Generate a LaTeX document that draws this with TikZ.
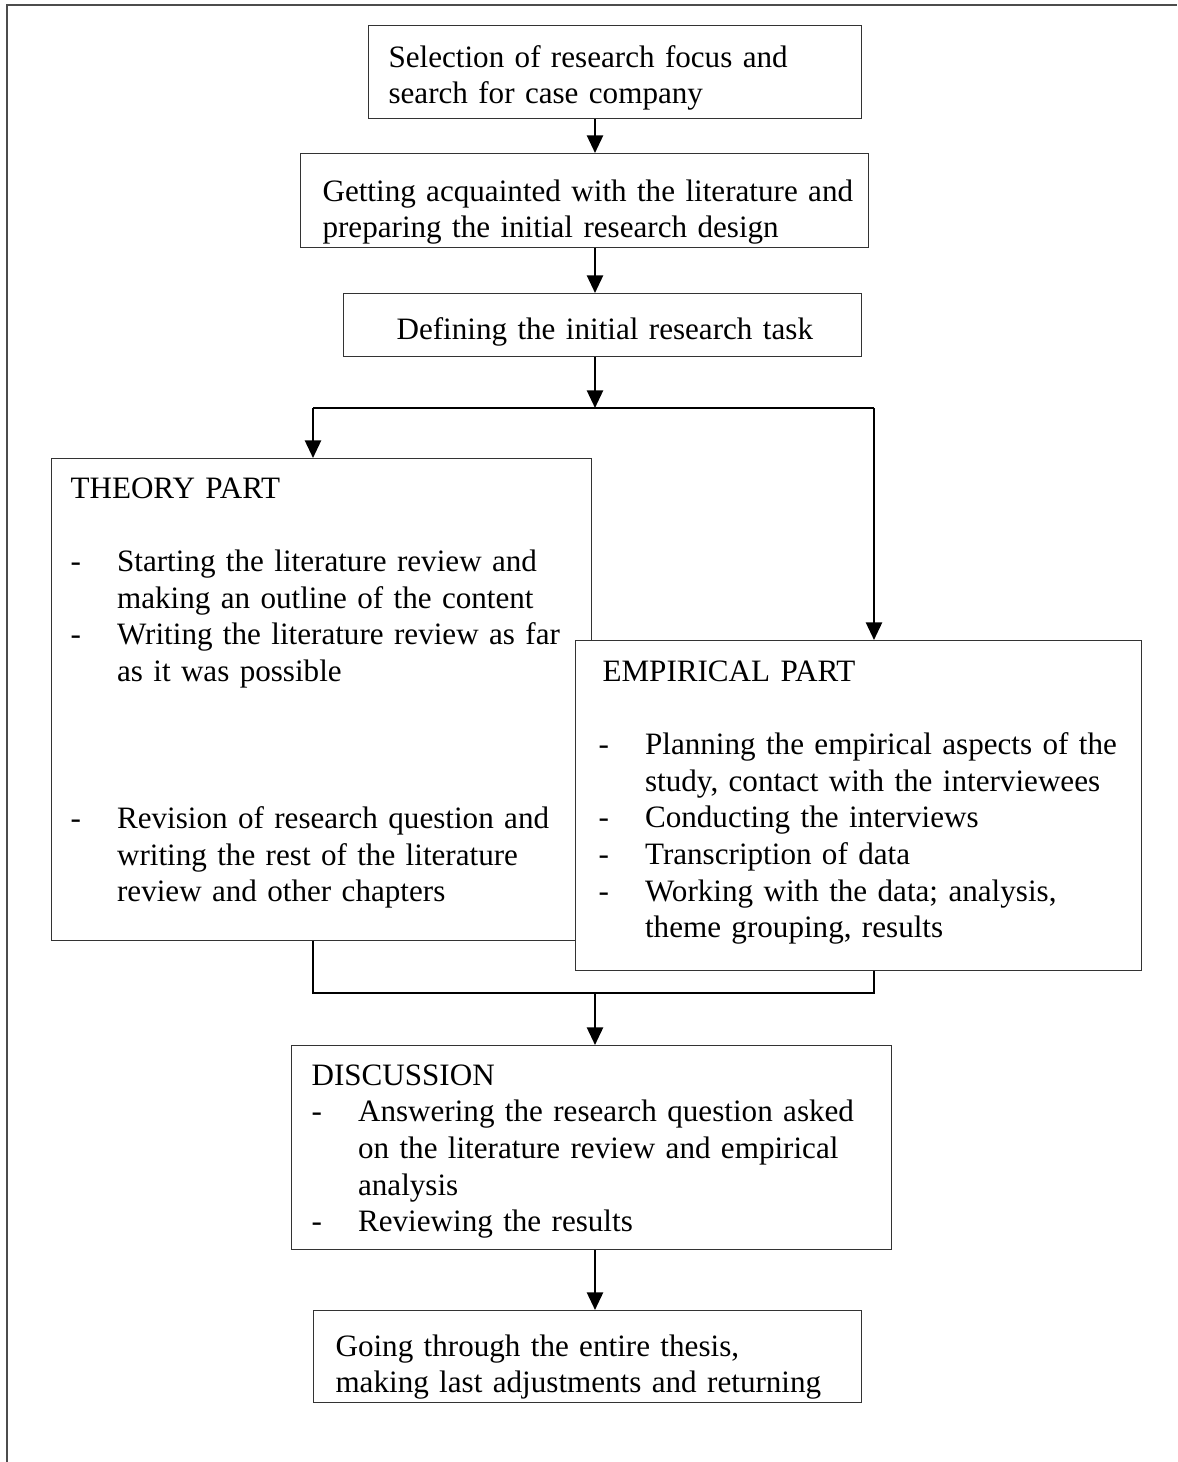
\documentclass[tikz,border=0pt]{standalone}
\usepackage{fontspec}
\setmainfont{Liberation Serif}
\usetikzlibrary{arrows.meta}
\newdimen\pxu
\pxu=0.376pt
\newcommand{\dashitem}{\makebox[17.5pt][l]{-}}
\newcommand{\indentitem}{\hspace*{17.5pt}}
\begin{document}
\begin{tikzpicture}[x=0.376pt,y=-0.376pt,
  boxst/.style={draw=black!80, line width=0.5pt, rectangle, inner sep=0pt, anchor=north west, fill=white},
  txt/.style={anchor=base west, inner sep=0pt, align=left, text width=700*\pxu, font=\fontsize{11.7}{13.8}\selectfont},
  conn/.style={draw=black, line width=0.9pt},
  arr/.style={conn, -{Triangle[length=6.6pt,width=6pt]}},
  frame/.style={draw=black!70, line width=0.6pt}
  ]
\useasboundingbox (0,0) rectangle (1177,1462);
% outer frame
\draw[frame] (7,1462) -- (7,5) -- (1177,5);

% boxes
\node[boxst, minimum width=493*\pxu, minimum height=93*\pxu] (b1) at (368,25) {};
\node[boxst, minimum width=568*\pxu, minimum height=94*\pxu] (b2) at (300,153) {};
\node[boxst, minimum width=518*\pxu, minimum height=63*\pxu] (b3) at (343,293) {};
\node[boxst, minimum width=540*\pxu, minimum height=482*\pxu] (theory) at (51,458) {};
\node[boxst, minimum width=566*\pxu, minimum height=330*\pxu] (emp) at (575,640) {};
\node[boxst, minimum width=600*\pxu, minimum height=204*\pxu] (disc) at (291,1045) {};
\node[boxst, minimum width=548*\pxu, minimum height=92*\pxu] (fin) at (313,1310) {};

% texts
\node[txt] (t1) at (388,67) {Selection of research focus and\\search for case company};
\node[txt] (t2) at (322,201) {Getting acquainted with the literature and\\preparing the initial research design};
\node[txt] (t3) at (396,339) {Defining the initial research task};
\node[txt] (tt) at (70,498) {THEORY PART\\[\baselineskip]
\dashitem Starting the literature review and\\
\indentitem making an outline of the content\\
\dashitem Writing the literature review as far\\
\indentitem as it was possible\\[3\baselineskip]
\dashitem Revision of research question and\\
\indentitem writing the rest of the literature\\
\indentitem review and other chapters};
\node[txt] (te) at (598,681) {\hspace*{1.5pt}EMPIRICAL PART\\[\baselineskip]
\dashitem Planning the empirical aspects of the\\
\indentitem study, contact with the interviewees\\
\dashitem Conducting the interviews\\
\dashitem Transcription of data\\
\dashitem Working with the data; analysis,\\
\indentitem theme grouping, results};
\node[txt] (td) at (311,1085) {DISCUSSION\\
\dashitem Answering the research question asked\\
\indentitem on the literature review and empirical\\
\indentitem analysis\\
\dashitem Reviewing the results};
\node[txt] (tf) at (335,1356) {Going through the entire thesis,\\making last adjustments and returning};

% connector guides
\coordinate (cx) at (595,0);
\coordinate (cl) at (313,0);
\coordinate (cr) at (874,0);
\coordinate (split) at (0,408);
\coordinate (merge) at (0,993);

\draw[arr] (cx |- b1.south) -- (cx |- b2.north);
\draw[arr] (cx |- b2.south) -- (cx |- b3.north);
\draw[arr] (cx |- b3.south) -- (cx |- split);
\draw[conn] (cl |- split) -- (cr |- split);
\draw[arr] (cl |- split) -- (cl |- theory.north);
\draw[arr] (cr |- split) -- (cr |- emp.north);
\draw[conn] (cl |- theory.south) -- (cl |- merge) -- (cr |- merge) -- (cr |- emp.south);
\draw[arr] (cx |- merge) -- (cx |- disc.north);
\draw[arr] (cx |- disc.south) -- (cx |- fin.north);
\end{tikzpicture}
\end{document}
